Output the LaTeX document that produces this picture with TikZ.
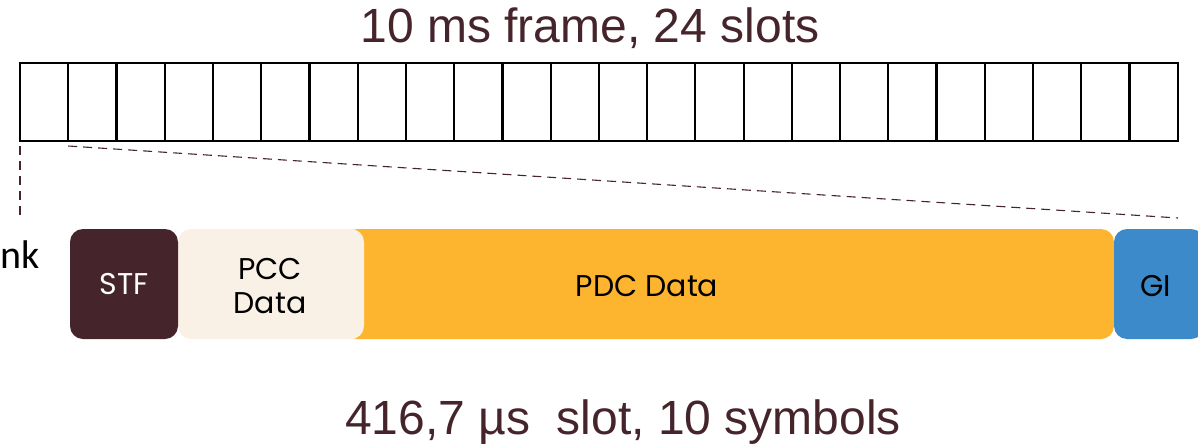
\documentclass[tikz,border=0pt]{standalone}
\usepackage{fontspec}
\setmainfont{Liberation Sans}
\newfontfamily\boxfont{Poppins}
\newfontfamily\sidefont{Carlito}
\definecolor{maroon}{HTML}{45242B}
\definecolor{cream}{HTML}{FAF1E6}
\definecolor{amber}{HTML}{FDB52F}
\definecolor{skyblue}{HTML}{3C8AC9}
\begin{document}
\begin{tikzpicture}[x=1pt,y=-1pt,
  slotcell/.style={draw=black,line width=2.2pt,minimum width=48.24pt,minimum height=78pt,inner sep=0pt,outer sep=0pt},
  part/.style={rounded corners=13pt,inner sep=0pt,outer sep=0pt,minimum height=110pt},
  partlabel/.style={font=\boxfont\fontsize{30}{34}\selectfont,align=center,inner sep=0pt},
  guide/.style={draw=maroon,dashed,dash pattern=on 9pt off 6pt,line width=1.1pt}]
\useasboundingbox (0,0) rectangle (1198,447);
% frame of 24 slots
\foreach \i in {0,...,23}{
  \node[slotcell,anchor=north west] (s\i) at ({20+48.24*\i},63) {};
}
\node[font=\fontsize{48}{50}\selectfont,text=maroon] (title) at (590,28) {10 ms frame, 24 slots};
% slot content
\node[part,fill=amber,minimum width=770pt,anchor=west] (pdc) at (344,284) {};
\node[part,fill=cream,minimum width=186pt,anchor=west] (pcc) at (178,284) {};
\node[part,fill=maroon,minimum width=108pt,anchor=west] (stf) at (70,284) {};
\node[part,fill=skyblue,minimum width=90pt,anchor=west] (gi) at (1114,284) {};
\node[partlabel,text=white] (stflabel) at (stf.center) {STF};
\node[partlabel] (pcclabel) at (270,286) {PCC\\Data};
\node[partlabel] (pdclabel) at (647,286) {PDC Data};
\node[partlabel] (gilabel) at (1156,286) {GI};
\node[font=\sidefont\fontsize{40}{42}\selectfont,anchor=base west,inner sep=0pt] (side) at (0.5,268) {nk};
% zoom guides
\coordinate (gl) at (20,216);
\coordinate (gr) at (1178,218);
\draw[guide] ([yshift=-5pt]s0.south west) -- (gl);
\draw[guide] ([yshift=-5pt]s1.south west) -- (gr);
\node[font=\fontsize{48}{50}\selectfont,text=maroon] (sub) at (623,422) {416,7 µs\ \ slot, 10 symbols};
\end{tikzpicture}
\end{document}
